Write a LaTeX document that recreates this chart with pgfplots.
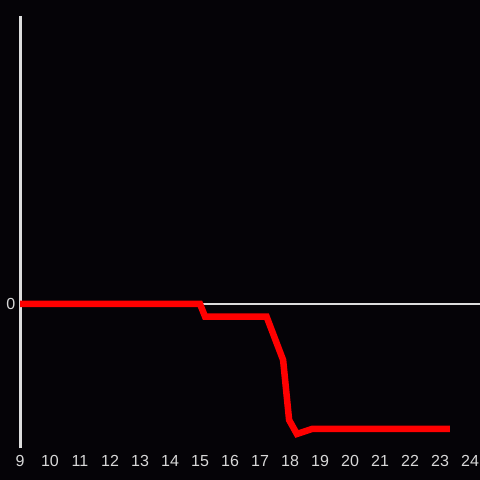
\documentclass[border=0pt]{standalone}
\usepackage{pgfplots}
\pgfplotsset{compat=1.18}
\usepackage{fontspec}
\setmainfont{Liberation Sans}
\definecolor{bg}{HTML}{050307}
\definecolor{axgray}{HTML}{DDDDDD}
\definecolor{lblgray}{HTML}{D8D8D8}
\begin{document}
\begin{tikzpicture}[x=1bp,y=1bp]
\fill[bg] (0,0) rectangle (480,480);
\useasboundingbox (0,0) rectangle (480,480);
\begin{axis}[
  at={(20bp,31.5bp)}, anchor=south west,
  scale only axis, width=460bp, height=432.5bp,
  xmin=9, xmax=24.3333, ymin=-144.5, ymax=288,
  axis y line*=left, axis x line*=bottom,
  x axis line style={draw=none},
  y axis line style={draw=axgray, line width=3bp},
  xtick={9,10,...,24}, ytick={0},
  major tick length=0pt,
  tick label style={font=\fontsize{16bp}{17bp}\selectfont, text=lblgray},
  /pgf/number format/assume math mode=true,
  xticklabel style={anchor=center, yshift=-12.5bp, inner sep=0pt},
  yticklabel style={anchor=east, xshift=-4.5bp, inner sep=0pt},
  clip=false,
]
\addplot[draw=axgray, line width=2.4bp] coordinates {(9,0) (24.3333,0)};
\addplot[draw=red, line width=6.5bp, line join=miter] coordinates {
  (9,0) (15.0,0) (15.17,-12.7) (17.22,-12.7) (17.77,-56) (17.97,-116) (18.23,-130) (18.73,-125) (23.33,-125)
};
\end{axis}
\end{tikzpicture}
\end{document}
